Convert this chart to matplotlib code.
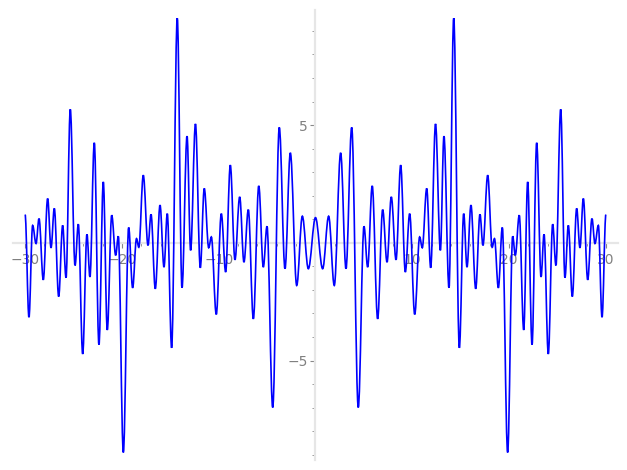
import numpy as np
from matplotlib import pyplot as plt
from matplotlib.path import Path
from matplotlib.patches import PathPatch
from matplotlib.ticker import FixedLocator, NullFormatter

# turning points read off the right half of the curve (x >= 0)
# the curve is even, so the left half is its mirror image
x_half = [0, 0.74, 1.36, 1.94, 2.60, 3.15, 3.74, 4.42, 5.01, 5.39,
          5.86, 6.42, 6.94, 7.39, 7.83, 8.32, 8.80, 9.28, 9.73, 10.25,
          10.76, 11.03, 11.49, 11.90, 12.40, 12.90, 13.27, 13.79, 14.28, 14.86,
          15.31, 15.65, 16.06, 16.55, 16.99, 17.30, 17.79, 18.25, 18.49, 18.89,
          19.30, 19.85, 20.37, 20.64, 21.05, 21.51, 21.92, 22.37, 22.85, 23.30,
          23.61, 24.05, 24.50, 24.84, 25.33, 25.77, 26.12, 26.53, 26.98, 27.32,
          27.67, 28.12, 28.56, 28.87, 29.22, 29.60, 30.0]
y_half = [1.07, -1.10, 1.13, -1.81, 3.82, -1.10, 4.90, -6.99, 0.70, -1.03,
          2.42, -3.23, 1.41, -0.82, 1.95, -0.72, 3.30, -1.24, 1.24, -3.04,
          0.25, -0.21, 2.31, -1.06, 5.05, -0.32, 4.53, -1.91, 9.54, -4.46,
          1.24, -1.03, 1.60, -1.95, 1.21, -0.11, 2.87, -0.19, 0.18, -1.91,
          0.65, -8.90, 0.28, -0.53, 1.17, -3.70, 2.59, -4.32, 4.25, -1.45,
          0.36, -4.72, 0.79, -0.96, 5.67, -1.48, 0.74, -2.28, 1.46, -0.21,
          1.88, -1.57, 1.03, -0.03, 0.74, -3.16, 1.2]

x_major = [-30, -20, -10, 10, 20, 30]
x_labels = ["−30", "−20", "−10", "10", "20", "30"]
y_major = [-5, 5]
y_labels = ["−5", "5"]

xh = np.array(x_half)
yh = np.array(y_half)
xs = np.concatenate([-xh[:0:-1], xh])
ys = np.concatenate([yh[:0:-1], yh])

# smooth line through the turning points: cubic segments with flat tangents
verts = [(xs[0], ys[0])]
codes = [Path.MOVETO]
for i in range(len(xs) - 1):
    h = 0.363 * (xs[i + 1] - xs[i])
    verts += [(xs[i] + h, ys[i]), (xs[i + 1] - h, ys[i + 1]), (xs[i + 1], ys[i + 1])]
    codes += [Path.CURVE4] * 3

fig = plt.figure(figsize=(6.27, 4.70), dpi=100)
ax = fig.add_axes([12.5 / 627, 10 / 470, 605.5 / 627, 450 / 470])

ax.add_patch(PathPatch(Path(verts, codes), facecolor="none", edgecolor="#0000ff",
                       lw=1.2, zorder=3))

ax.set_xlim(-31.3, 31.25)
ax.set_ylim(-9.22, 9.885)

for side in ["top", "right"]:
    ax.spines[side].set_visible(False)
for side in ["left", "bottom"]:
    ax.spines[side].set_position(("data", 0))
    ax.spines[side].set_color("#e6e6e6")
    ax.spines[side].set_linewidth(1.6)

ax.xaxis.set_major_locator(FixedLocator(x_major))
ax.set_xticklabels(x_labels)
ax.xaxis.set_minor_locator(FixedLocator([v for v in range(-30, 31, 2) if v % 10 != 0]))
ax.yaxis.set_major_locator(FixedLocator(y_major))
ax.set_yticklabels(y_labels)
ax.yaxis.set_minor_locator(FixedLocator([v for v in range(-9, 10) if v not in (0, 5, -5)]))
ax.xaxis.set_minor_formatter(NullFormatter())
ax.yaxis.set_minor_formatter(NullFormatter())

ax.tick_params(which="major", length=3.5, width=0.8, color="#888888",
               labelcolor="#808080", labelsize=10, pad=2)
ax.tick_params(axis="x", which="major", pad=4)
ax.tick_params(which="minor", length=2, width=0.6, color="#888888")
ax.set_facecolor("none")

fig.savefig("out.png", dpi=100)
